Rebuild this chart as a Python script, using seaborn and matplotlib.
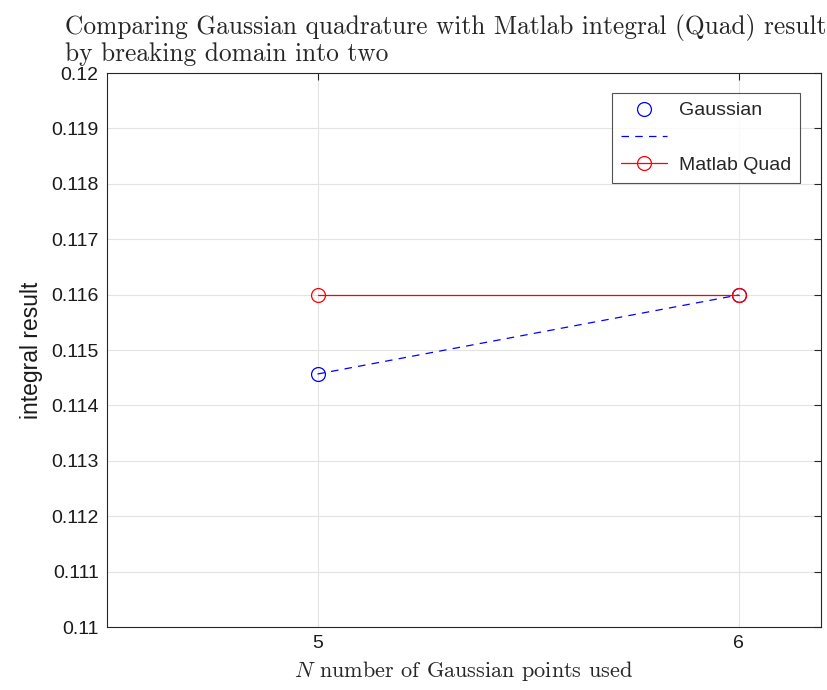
import numpy as np
import matplotlib
matplotlib.use("Agg")
import matplotlib.pyplot as plt
import seaborn as sns

# data
n_points = [5, 6]
gaussian = [0.114567, 0.115993]
matlab_quad = [0.115993, 0.115993]
y_ticks = [0.11, 0.111, 0.112, 0.113, 0.114, 0.115, 0.116, 0.117, 0.118, 0.119, 0.12]
y_tick_labels = ["0.11", "0.111", "0.112", "0.113", "0.114", "0.115", "0.116",
                 "0.117", "0.118", "0.119", "0.12"]

sns.set_style("white")
plt.rcParams['font.family'] = ['Liberation Sans', 'DejaVu Sans']
plt.rcParams['mathtext.fontset'] = 'cm'

fig = plt.figure(figsize=(8.28, 6.9), dpi=100)
ax = fig.add_axes([0.1292, 0.0913, 0.862, 0.8029])

sns.lineplot(x=n_points, y=gaussian, ax=ax, color='blue', linestyle='', marker='o',
             markersize=10, markerfacecolor='none', markeredgecolor='blue',
             markeredgewidth=0.9, label='Gaussian')
sns.lineplot(x=n_points, y=gaussian, ax=ax, color='blue', linestyle=(0, (6, 5)),
             linewidth=0.9, label=' ')
sns.lineplot(x=n_points, y=matlab_quad, ax=ax, color='red', linewidth=0.9, marker='o',
             markersize=10, markerfacecolor='none', markeredgecolor='red',
             markeredgewidth=0.9, label='Matlab Quad')

ax.set_xlim(4.5, 6.195)
ax.set_ylim(0.11, 0.12)
ax.set_xticks(n_points)
ax.set_xticklabels([str(n) for n in n_points])
ax.set_yticks(y_ticks)
ax.set_yticklabels(y_tick_labels)
ax.grid(True, color='#e3e3e3', linewidth=0.8)
ax.tick_params(direction='in', length=5, width=0.8, labelsize=14, color='#262626',
               top=True, right=True, labelcolor='#1a1a1a', pad=6)
for s in ax.spines.values():
    s.set_visible(True)
    s.set_color('#262626')
    s.set_linewidth(0.8)

ax.set_ylabel('integral result', fontsize=16.5, color='#1a1a1a', labelpad=6)
ax.set_xlabel('$N$ number of Gaussian points used', fontsize=16, family='cmr10',
              labelpad=5)
fig.text(65 / 828, 1 - 14 / 690,
         'Comparing Gaussian quadrature with Matlab integral (Quad) result\nby breaking domain into two',
         fontsize=18.3, family='cmr10', ha='left', va='top', linespacing=1.05)

leg = ax.legend(loc='upper right', bbox_to_anchor=(0.971, 0.964), fontsize=14,
                frameon=True, fancybox=False, edgecolor='#262626', handlelength=2.4,
                borderpad=0.45, labelspacing=0.5, borderaxespad=0, handletextpad=0.6)
leg.get_frame().set_linewidth(0.8)

fig.savefig('out.png', dpi=100)
